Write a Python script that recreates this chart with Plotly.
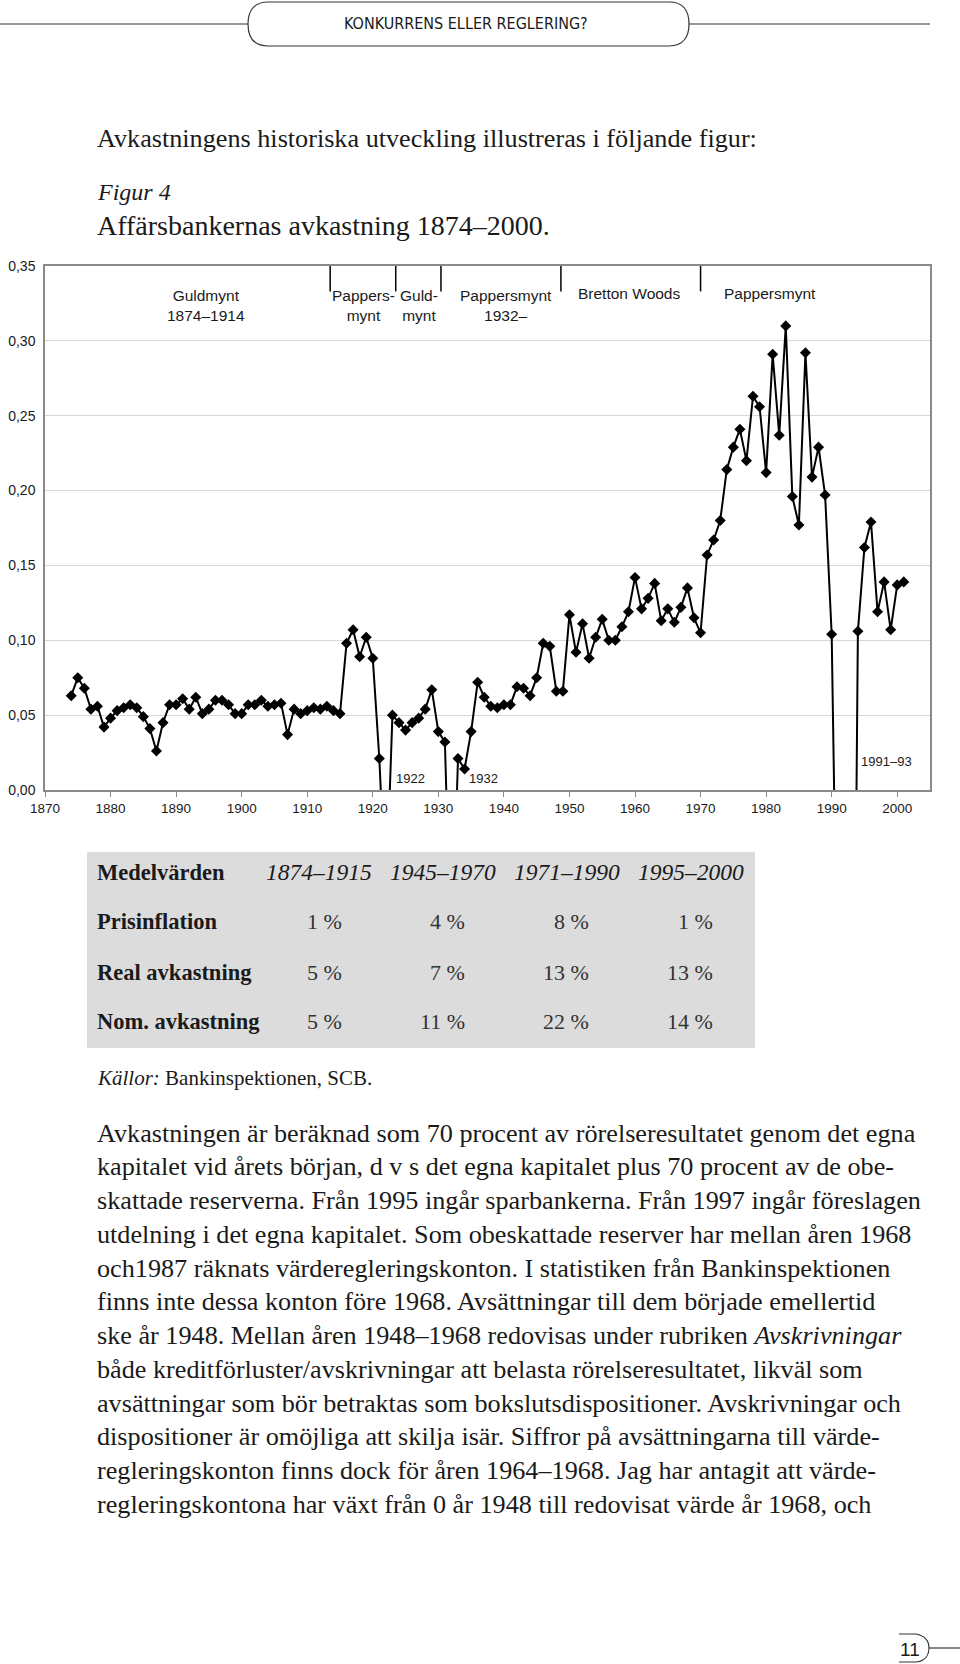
import plotly.graph_objects as go

# ---------------- data ----------------
years = list(range(1874, 2002))
avkastning = [
    0.063, 0.075, 0.068, 0.054, 0.056, 0.042, 0.048, 0.053, 0.055, 0.057,   # 1874-1883
    0.055, 0.049, 0.041, 0.026, 0.045, 0.057, 0.057, 0.061, 0.054, 0.062,   # 1884-1893
    0.051, 0.054, 0.060, 0.060, 0.057, 0.051, 0.051, 0.057, 0.057, 0.060,   # 1894-1903
    0.056, 0.057, 0.058, 0.037, 0.054, 0.051, 0.053, 0.055, 0.054, 0.056,   # 1904-1913
    0.053, 0.051, 0.098, 0.107, 0.089, 0.102, 0.088, 0.021, -0.075, 0.050,  # 1914-1923
    0.045, 0.040, 0.045, 0.048, 0.054, 0.067, 0.039, 0.032, -0.120, 0.021,  # 1924-1933
    0.014, 0.039, 0.072, 0.062, 0.056, 0.055, 0.057, 0.057, 0.069, 0.068,   # 1934-1943
    0.063, 0.075, 0.098, 0.096, 0.066, 0.066, 0.117, 0.092, 0.111, 0.088,   # 1944-1953
    0.102, 0.114, 0.100, 0.100, 0.109, 0.119, 0.142, 0.121, 0.128, 0.138,   # 1954-1963
    0.113, 0.121, 0.112, 0.122, 0.135, 0.115, 0.105, 0.157, 0.167, 0.180,   # 1964-1973
    0.214, 0.229, 0.241, 0.220, 0.263, 0.256, 0.212, 0.291, 0.237, 0.310,   # 1974-1983
    0.196, 0.177, 0.292, 0.209, 0.229, 0.197, 0.104, -0.080, -0.450, -0.400, # 1984-1993
    0.106, 0.162, 0.179, 0.119, 0.139, 0.107, 0.137, 0.139,                 # 1994-2001
]
y_ticks = [0.00, 0.05, 0.10, 0.15, 0.20, 0.25, 0.30, 0.35]
x_ticks = [1870, 1880, 1890, 1900, 1910, 1920, 1930, 1940, 1950, 1960, 1970, 1980, 1990, 2000]

regime_lines = [1913.5, 1923.5, 1930.4, 1948.7, 1970.0]
regime_labels = ["Guldmynt<br>1874–1914", "Pappers-<br>mynt", "Guld-<br>mynt",
                 "Pappersmynt<br>1932–", "Bretton Woods", "Pappersmynt"]
regime_label_x = [1894.6, 1918.6, 1927.1, 1940.3, 1959.1, 1980.6]
regime_label_y = [305, 305, 305, 305, 293, 293]

event_labels = ["1922", "1932", "1991–93"]
event_label_x = [1925.8, 1936.9, 1998.3]
event_label_y = [778, 778, 761]

table_header = ["Medelvärden", "1874–1915", "1945–1970", "1971–1990", "1995–2000"]
table_rows = ["Prisinflation", "Real avkastning", "Nom. avkastning"]
table_values = [["1 %", "4 %", "8 %", "1 %"],
                ["5 %", "7 %", "13 %", "13 %"],
                ["5 %", "11 %", "22 %", "14 %"]]

paragraph = [
    "Avkastningen är beräknad som 70 procent av rörelseresultatet genom det egna",
    "kapitalet vid årets början, d v s det egna kapitalet plus 70 procent av de obe-",
    "skattade reserverna. Från 1995 ingår sparbankerna. Från 1997 ingår föreslagen",
    "utdelning i det egna kapitalet. Som obeskattade reserver har mellan åren 1968",
    "och1987 räknats värderegleringskonton. I statistiken från Bankinspektionen",
    "finns inte dessa konton före 1968. Avsättningar till dem började emellertid",
    "ske år 1948. Mellan åren 1948–1968 redovisas under rubriken <i>Avskrivningar</i>",
    "både kreditförluster/avskrivningar att belasta rörelseresultatet, likväl som",
    "avsättningar som bör betraktas som bokslutsdispositioner. Avskrivningar och",
    "dispositioner är omöjliga att skilja isär. Siffror på avsättningarna till värde-",
    "regleringskonton finns dock för åren 1964–1968. Jag har antagit att värde-",
    "regleringskontona har växt från 0 år 1948 till redovisat värde år 1968, och",
]

# ---------------- geometry helpers ----------------
W, H = 960, 1664
PL, PR, PT, PB = 45, 930, 266, 790
X0, X1 = 1870, 2005
TX = 95  # left text margin (annotation anchor)


def px(x):
    return (x - PL) / (PR - PL)


def py(y):
    return (PB - y) / (PB - PT)


SERIF = "Liberation Serif, Times New Roman, serif"
SANS = "Liberation Sans, Arial, sans-serif"
NARROW = "Liberation Sans Narrow, DejaVu Sans Condensed, Arial Narrow, sans-serif"
INK = "#1a1a1a"

fig = go.Figure()
fig.add_trace(go.Scatter(
    x=years, y=avkastning, mode="lines+markers",
    line=dict(color="black", width=2),
    marker=dict(symbol="diamond", size=8.5, color="black"),
    showlegend=False, hoverinfo="x+y",
))

shapes = []
annotations = []

# regime separator ticks at the top of the plot
for xv in regime_lines:
    shapes.append(dict(type="line", xref="x", yref="y", x0=xv, x1=xv, y0=0.35, y1=0.333,
                       line=dict(color="black", width=1.5)))
for t, xv, yv in zip(regime_labels, regime_label_x, regime_label_y):
    annotations.append(dict(text=t, xref="x", yref="paper", x=xv, y=py(yv), showarrow=False,
                            xanchor="center", yanchor="middle",
                            font=dict(family=SANS, size=15.5, color=INK)))
for t, xv, yv in zip(event_labels, event_label_x, event_label_y):
    annotations.append(dict(text=t, xref="x", yref="paper", x=xv, y=py(yv), showarrow=False,
                            xanchor="center", yanchor="middle",
                            font=dict(family=SANS, size=13, color=INK)))

# ---------------- page header ----------------
def P(x, y):
    return f"{px(x):.5f},{py(y):.5f}"


bx0, bx1 = 248, 689
box = (f"M {P(bx0 + 20, 2)} L {P(bx1 - 20, 2)} C {P(bx1 - 5, 2)} {P(bx1, 12)} {P(bx1, 24)} "
       f"C {P(bx1, 36)} {P(bx1 - 5, 46)} {P(bx1 - 20, 46)} L {P(bx0 + 20, 46)} "
       f"C {P(bx0 + 5, 46)} {P(bx0, 36)} {P(bx0, 24)} C {P(bx0, 12)} {P(bx0 + 5, 2)} {P(bx0 + 20, 2)} Z")
shapes.append(dict(type="path", xref="paper", yref="paper", path=box,
                   line=dict(color="#333", width=1.2)))
shapes.append(dict(type="line", xref="paper", yref="paper", x0=px(0), x1=px(bx0), y0=py(24), y1=py(24),
                   line=dict(color="#333", width=1.2)))
shapes.append(dict(type="line", xref="paper", yref="paper", x0=px(bx1), x1=px(930), y0=py(24), y1=py(24),
                   line=dict(color="#333", width=1.2)))
annotations.append(dict(text="KONKURRENS ELLER REGLERING?", xref="paper", yref="paper",
                        x=px(466), y=py(24), showarrow=False, xanchor="center", yanchor="middle",
                        font=dict(family=NARROW, size=16, color=INK)))

# intro + figure caption
annotations.append(dict(text="Avkastningens historiska utveckling illustreras i följande figur:",
                        xref="paper", yref="paper", x=px(TX), y=py(138), showarrow=False,
                        xanchor="left", yanchor="middle", font=dict(family=SERIF, size=26.2, color=INK)))
annotations.append(dict(text="<i>Figur 4</i>", xref="paper", yref="paper", x=px(TX), y=py(192),
                        showarrow=False, xanchor="left", yanchor="middle",
                        font=dict(family=SERIF, size=24, color=INK)))
annotations.append(dict(text="Affärsbankernas avkastning 1874–2000.", xref="paper", yref="paper",
                        x=px(TX), y=py(225), showarrow=False, xanchor="left", yanchor="middle",
                        font=dict(family=SERIF, size=28, color=INK)))

# ---------------- table ----------------
shapes.append(dict(type="rect", xref="paper", yref="paper", x0=px(87), x1=px(755), y0=py(852), y1=py(1048),
                   fillcolor="#dcdcdd", line=dict(width=0), layer="below"))
row_y = [872, 922, 972, 1021.5]
col_right = [344, 467, 591, 715]
col_center_hdr = [318.5, 443, 567, 690.5]
annotations.append(dict(text="<b>" + table_header[0] + "</b>", xref="paper", yref="paper", x=px(TX), y=py(row_y[0]),
                        showarrow=False, xanchor="left", yanchor="middle",
                        font=dict(family=SERIF, size=22.5, color=INK)))
for h, xc in zip(table_header[1:], col_center_hdr):
    annotations.append(dict(text="<i>" + h + "</i>", xref="paper", yref="paper", x=px(xc), y=py(row_y[0]),
                            showarrow=False, xanchor="center", yanchor="middle",
                            font=dict(family=SERIF, size=23.5, color=INK)))
for r, (lab, vals) in enumerate(zip(table_rows, table_values)):
    yy = row_y[r + 1]
    annotations.append(dict(text="<b>" + lab + "</b>", xref="paper", yref="paper", x=px(TX), y=py(yy),
                            showarrow=False, xanchor="left", yanchor="middle",
                            font=dict(family=SERIF, size=22.5, color=INK)))
    for v, xr in zip(vals, col_right):
        annotations.append(dict(text=v, xref="paper", yref="paper", x=px(xr), y=py(yy),
                                showarrow=False, xanchor="right", yanchor="middle",
                                font=dict(family=SERIF, size=22, color="#333")))

annotations.append(dict(text="<i>Källor:</i> Bankinspektionen, SCB.", xref="paper", yref="paper",
                        x=px(TX), y=py(1078), showarrow=False, xanchor="left", yanchor="middle",
                        font=dict(family=SERIF, size=21, color=INK)))

# ---------------- paragraph ----------------
para_y0 = 1133
para_dy = 33.75
for i, line in enumerate(paragraph):
    annotations.append(dict(text=line, xref="paper", yref="paper", x=px(TX), y=py(para_y0 + i * para_dy),
                            showarrow=False, xanchor="left", yanchor="middle",
                            font=dict(family=SERIF, size=26.2, color=INK)))

# ---------------- page number ----------------
pn = (f"M {P(899, 1634)} L {P(916, 1634)} C {P(926, 1636)} {P(929, 1642)} {P(929, 1648)} "
      f"C {P(929, 1654)} {P(926, 1661)} {P(916, 1662)} L {P(899, 1662)}")
shapes.append(dict(type="path", xref="paper", yref="paper", path=pn, line=dict(color="#333", width=1.2)))
shapes.append(dict(type="line", xref="paper", yref="paper", x0=px(929), x1=px(960), y0=py(1648), y1=py(1648),
                   line=dict(color="#333", width=1.2)))
annotations.append(dict(text="11", xref="paper", yref="paper", x=px(910), y=py(1650), showarrow=False,
                        xanchor="center", yanchor="middle", font=dict(family=SANS, size=19, color=INK)))

fig.update_layout(
    width=W, height=H,
    margin=dict(l=PL, r=W - PR, t=PT, b=H - PB, pad=0, autoexpand=False),
    paper_bgcolor="white", plot_bgcolor="white",
    separators=", ",
    shapes=shapes, annotations=annotations,
    xaxis=dict(range=[X0, X1], tickvals=x_ticks, ticktext=[str(v) for v in x_ticks],
               automargin=False,
               showgrid=False, zeroline=False, showline=True, linecolor="#8a8a8a", linewidth=1.5,
               mirror=True, ticks="outside", ticklen=5, tickcolor="#8a8a8a",
               tickfont=dict(family=SANS, size=13.5, color=INK)),
    yaxis=dict(range=[0, 0.35], tickvals=y_ticks, tickformat=".2f",
               automargin=False,
               showgrid=True, gridcolor="#d6d6d6", gridwidth=1, zeroline=False,
               showline=True, linecolor="#8a8a8a", linewidth=1.5, mirror=True,
               ticks="", ticklabelstandoff=5,
               tickfont=dict(family=SANS, size=14, color=INK)),
)

fig.write_html("out.html", config={"displayModeBar": False},
               post_script="document.body.style.margin='0';")
